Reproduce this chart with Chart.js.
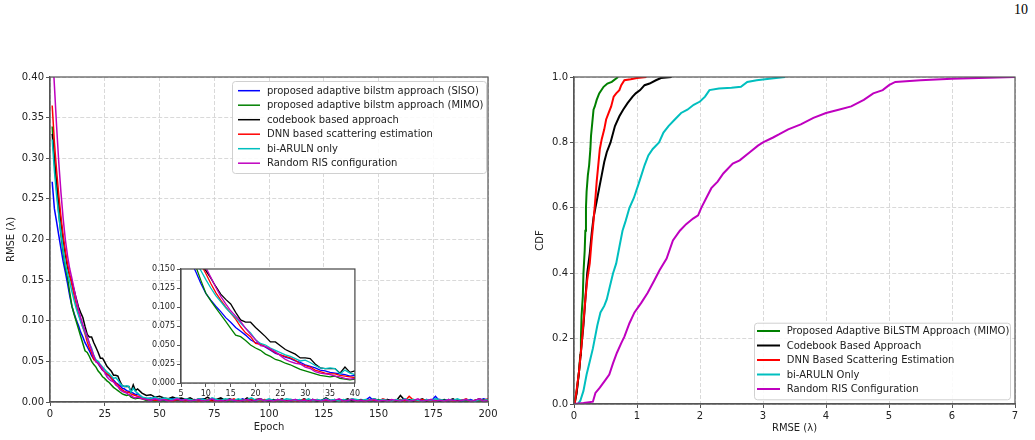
<!DOCTYPE html>
<html>
<head>
<meta charset="utf-8">
<script src="https://cdn.jsdelivr.net/npm/chart.js@4/dist/chart.umd.min.js"></script>
<style>
	body { margin: 0; width: 1035px; height: 440px; background: #fff; position: relative; overflow: hidden; }
	canvas { position: absolute; }
	#pageNumber { position: absolute; left: 1014px; top: 2px; font: 14px/16px "Liberation Serif", serif; color: #000; }
</style>
</head>
<body>
<div id="pageNumber">10</div>
<canvas id="rmseChart" width="500" height="440" style="left:0;top:0"></canvas>
<canvas id="zoomChart" width="222" height="140" style="left:140px;top:260px"></canvas>
<canvas id="cdfChart" width="515" height="440" style="left:520px;top:0"></canvas>
<script>
// -------------------- Data -------------------- //

// epochs: every epoch up to 40, then every second epoch
const epochs = [];
for (let e = 1; e <= 40; e++) epochs.push(e);
for (let e = 42; e <= 200; e += 2) epochs.push(e);

const rmseLabels = [
	"proposed adaptive bilstm approach (SISO)",
	"proposed adaptive bilstm approach (MIMO)",
	"codebook based approach",
	"DNN based scattering estimation",
	"bi-ARULN only",
	"Random RIS configuration"
];
const rmseColors = ["#0000ff", "#008000", "#000000", "#ff0000", "#00bfbf", "#bf00bf"];

const rmseSiso = [
	.271,.238,.222,.205,.189,.173,.160,.146,.131,.118,.109,.101,.094,.086,.080,.073,.068,.063,.057,.053,
	.051,.047,.043,.039,.037,.034,.032,.029,.027,.024,.022,.020,.017,.016,.014,.013,.012,.011,.009,.010,
	.006,.004,.005,.003,.004,.002,.003,.005,.002,.003,.002,.001,.003,.002,.004,.001,.002,.003,.001,.002,
	.003,.001,.002,.004,.001,.002,.001,.003,.002,.001,.002,.003,.001,.002,.001,.003,.002,.001,.002,.003,
	.001,.002,.001,.002,.003,.001,.002,.001,.003,.002,.001,.002,.006,.001,.002,.001,.003,.002,.001,.002,
	.004,.001,.002,.001,.002,.003,.001,.007,.001,.002,.001,.003,.002,.001,.002,.003,.001,.002,.004,.002
];
const rmseMimo = [
	.339,.295,.262,.232,.205,.184,.166,.153,.135,.118,.108,.099,.090,.081,.072,.063,.061,.056,.050,.046,
	.043,.038,.035,.031,.029,.026,.024,.021,.018,.016,.014,.012,.010,.009,.008,.009,.006,.005,.004,.005,
	.004,.002,.003,.001,.002,.001,.002,.001,.003,.001,.002,.000,.001,.002,.001,.000,.002,.001,.003,.001,
	.000,.002,.001,.003,.001,.000,.002,.001,.000,.002,.001,.003,.000,.001,.002,.001,.000,.002,.001,.003,
	.001,.000,.002,.001,.000,.002,.001,.003,.000,.001,.002,.001,.000,.002,.003,.001,.000,.002,.001,.000,
	.002,.001,.003,.000,.001,.002,.001,.000,.002,.001,.003,.001,.000,.002,.001,.000,.002,.001,.003,.001
];
const rmseCodebook = [
	.330,.300,.270,.245,.222,.200,.182,.166,.155,.148,.138,.127,.117,.110,.104,.093,.083,.080,.080,.073,
	.067,.061,.054,.054,.049,.044,.041,.038,.033,.033,.032,.025,.020,.019,.019,.019,.013,.021,.014,.016,
	.011,.008,.009,.006,.007,.005,.004,.006,.004,.005,.003,.005,.002,.004,.003,.006,.002,.003,.005,.002,
	.004,.002,.003,.001,.005,.002,.003,.004,.002,.001,.003,.002,.004,.001,.003,.002,.001,.004,.002,.003,
	.001,.002,.005,.002,.001,.003,.002,.004,.001,.002,.003,.001,.002,.004,.002,.001,.003,.002,.001,.008,
	.002,.003,.001,.002,.004,.001,.003,.002,.001,.003,.002,.004,.001,.002,.003,.001,.002,.004,.002,.003
];
const rmseDnn = [
	.365,.320,.285,.255,.228,.205,.186,.170,.156,.144,.131,.119,.109,.100,.092,.084,.074,.066,.061,.052,
	.051,.048,.044,.040,.037,.035,.033,.030,.025,.023,.021,.017,.015,.013,.012,.012,.010,.009,.008,.007,
	.005,.003,.004,.002,.003,.004,.002,.001,.003,.002,.001,.003,.002,.001,.002,.003,.001,.002,.001,.003,
	.002,.004,.001,.002,.001,.003,.002,.001,.003,.002,.001,.002,.003,.001,.002,.001,.002,.003,.001,.002,
	.003,.001,.002,.001,.003,.002,.001,.002,.004,.001,.002,.001,.003,.002,.001,.004,.002,.001,.002,.003,
	.001,.007,.002,.001,.003,.002,.001,.002,.003,.001,.002,.001,.003,.002,.004,.001,.002,.003,.002,.004
];
const rmseBiAruln = [
	.323,.285,.255,.230,.208,.188,.170,.158,.148,.136,.125,.115,.107,.099,.092,.086,.079,.072,.066,.057,
	.052,.050,.046,.043,.040,.037,.035,.032,.029,.030,.027,.023,.020,.019,.020,.019,.012,.017,.013,.011,
	.006,.005,.004,.006,.003,.005,.004,.003,.005,.002,.004,.003,.002,.004,.003,.002,.005,.003,.002,.004,
	.003,.002,.004,.002,.003,.005,.002,.003,.002,.004,.002,.003,.002,.004,.003,.002,.003,.001,.004,.002,
	.003,.002,.004,.002,.003,.001,.003,.002,.004,.003,.002,.003,.002,.004,.002,.003,.002,.001,.003,.002,
	.004,.002,.003,.002,.001,.003,.002,.004,.003,.002,.003,.002,.004,.002,.003,.002,.001,.003,.002,.003
];
const rmseRandomRis = [
	.440,.390,.340,.295,.258,.226,.200,.180,.164,.152,.139,.126,.114,.104,.095,.088,.081,.072,.064,.057,
	.049,.048,.045,.041,.036,.031,.028,.026,.025,.021,.019,.015,.013,.012,.011,.009,.008,.006,.005,.006,
	.004,.003,.002,.004,.002,.003,.001,.002,.004,.002,.003,.001,.002,.003,.001,.002,.004,.001,.002,.001,
	.003,.002,.001,.002,.003,.001,.002,.004,.001,.002,.001,.003,.002,.001,.002,.003,.001,.002,.001,.003,
	.002,.001,.003,.001,.002,.004,.001,.002,.003,.001,.002,.001,.002,.003,.001,.002,.001,.003,.002,.001,
	.003,.001,.002,.004,.001,.002,.003,.001,.002,.001,.003,.002,.001,.002,.003,.001,.002,.004,.001,.002
];
const rmseSeries = [rmseSiso, rmseMimo, rmseCodebook, rmseDnn, rmseBiAruln, rmseRandomRis];

const cdfLabels = [
	"Proposed Adaptive BiLSTM Approach (MIMO)",
	"Codebook Based Approach",
	"DNN Based Scattering Estimation",
	"bi-ARULN Only",
	"Random RIS Configuration"
];
const cdfColors = ["#008000", "#000000", "#ff0000", "#00bfbf", "#bf00bf"];

const cdfMimoX = [0, .02, .05, .08, .10, .11, .12, .14, .15, .17, .18, .19, .20, .22, .24, .26, .27, .29, .31, .33, .36, .40, .47, .53, .60, .70];
const cdfMimoY = [0, .01, .05, .10, .15, .20, .27, .33, .40, .47, .53, .60, .65, .70, .73, .78, .82, .86, .90, .91, .93, .95, .97, .98, .985, 1];
const cdfCodebookX = [0, .04, .08, .12, .15, .18, .21, .25, .28, .31, .34, .36, .40, .44, .48, .52, .58, .65, .72, .78, .85, .93, .98, 1.05, 1.12, 1.20, 1.30, 1.38, 1.55];
const cdfCodebookY = [0, .03, .10, .18, .24, .32, .40, .46, .52, .57, .60, .62, .66, .70, .74, .77, .80, .85, .88, .90, .92, .94, .95, .96, .975, .98, .99, .997, 1];
const cdfDnnX = [.01, .04, .08, .12, .15, .18, .21, .25, .28, .31, .34, .36, .38, .41, .44, .48, .51, .55, .59, .63, .67, .72, .75, .80, .90, 1.0, 1.15];
const cdfDnnY = [0, .04, .10, .18, .25, .32, .38, .43, .50, .56, .63, .68, .72, .78, .81, .84, .87, .89, .91, .94, .95, .96, .975, .99, .993, .997, 1];
const cdfBiArulnX = [.06, .10, .15, .20, .25, .30, .37, .42, .48, .52, .57, .62, .67, .72, .77, .82, .88, .95, 1.02, 1.07, 1.12, 1.18, 1.25, 1.35, 1.42, 1.50, 1.60, 1.70, 1.80, 1.90, 2.00, 2.08, 2.15, 2.30, 2.50, 2.65, 2.75, 2.90, 3.10, 3.35];
const cdfBiArulnY = [0, .01, .04, .09, .13, .17, .24, .28, .30, .32, .36, .40, .43, .48, .53, .56, .60, .63, .67, .70, .73, .76, .78, .80, .83, .85, .87, .89, .90, .915, .925, .94, .96, .965, .967, .97, .985, .99, .995, 1];
const cdfRandomRisX = [0, .15, .30, .34, .41, .50, .56, .62, .68, .75, .80, .88, .96, 1.07, 1.17, 1.28, 1.36, 1.47, 1.57, 1.68, 1.78, 1.89, 1.97, 2.02, 2.10, 2.18, 2.28, 2.37, 2.52, 2.63, 2.79, 2.92, 3.0, 3.16, 3.26, 3.4, 3.6, 3.8, 4.0, 4.2, 4.4, 4.6, 4.75, 4.9, 5.0, 5.1, 5.5, 6.0, 7.0];
const cdfRandomRisY = [0, .003, .007, .034, .05, .074, .09, .125, .156, .186, .206, .247, .28, .31, .34, .38, .41, .445, .50, .53, .55, .567, .577, .60, .63, .66, .68, .705, .735, .745, .77, .79, .80, .815, .825, .84, .855, .875, .89, .90, .91, .93, .95, .96, .975, .985, .99, .995, 1];
const cdfSeries = [
	[cdfMimoX, cdfMimoY], [cdfCodebookX, cdfCodebookY], [cdfDnnX, cdfDnnY],
	[cdfBiArulnX, cdfBiArulnY], [cdfRandomRisX, cdfRandomRisY]
];

// -------------------- Helpers -------------------- //

const tickColor = "#222";
const gridColor = "#cfcfcf";
const frameColor = "#555";
const baseFont = { family: "DejaVu Sans", size: 10 };

/// Turns two x/y arrays into {x, y} points
function toPoints(xs, ys) { return xs.map((x, i) => ({ x: x, y: ys[i] })); }

/// matplotlib style box around the plot area
const framePlugin = {
	id: "frame",
	beforeDatasetsDraw(chart, args, opts) {
		if (!opts.fill) return;
		const a = chart.chartArea;
		chart.ctx.save();
		chart.ctx.fillStyle = opts.fill;
		chart.ctx.fillRect(a.left, a.top, a.right - a.left, a.bottom - a.top);
		chart.ctx.restore();
	},
	afterDatasetsDraw(chart, args, opts) {
		const a = chart.chartArea, ctx = chart.ctx;
		ctx.save();
		ctx.strokeStyle = opts.color || frameColor;
		ctx.lineWidth = opts.width || 1.2;
		ctx.strokeRect(a.left, a.top, a.right - a.left, a.bottom - a.top);
		ctx.restore();
	}
};

/// Legend box drawn inside the plot, like matplotlib does it
const boxLegendPlugin = {
	id: "boxLegend",
	afterDraw(chart, args, opts) {
		if (!opts.x) return;
		const ctx = chart.ctx;
		ctx.save();
		ctx.fillStyle = "rgba(255,255,255,0.85)";
		ctx.strokeStyle = "#d0d0d0";
		ctx.lineWidth = 1;
		ctx.beginPath();
		ctx.roundRect(opts.x + 0.5, opts.y + 0.5, opts.w, opts.h, 3);
		ctx.fill();
		ctx.stroke();
		ctx.font = "10px 'DejaVu Sans'";
		ctx.textBaseline = "middle";
		chart.data.datasets.forEach((ds, i) => {
			const y = opts.rowY + i * opts.rowH;
			ctx.strokeStyle = ds.borderColor;
			ctx.lineWidth = opts.lineWidth;
			ctx.beginPath();
			ctx.moveTo(opts.lineX1, y);
			ctx.lineTo(opts.lineX2, y);
			ctx.stroke();
			ctx.fillStyle = tickColor;
			ctx.fillText(ds.label, opts.textX, y + 0.5);
		});
		ctx.restore();
	}
};

/// Shared axis settings
function axis(min, max, step, digits, fontSize, title, titlePadding, size) {
	return {
		type: "linear", min: min, max: max,
		ticks: {
			stepSize: step, color: tickColor, font: { family: "DejaVu Sans", size: fontSize },
			padding: 2, maxRotation: 0, autoSkip: false,
			callback: v => v.toFixed(digits)
		},
		grid: { color: gridColor, lineWidth: 0.8, tickLength: 4, tickColor: frameColor, tickWidth: 1, tickBorderDash: [] },
		border: { color: frameColor, width: 1.2, dash: [4, 2] },
		title: { display: !!title, text: title, color: tickColor, font: baseFont, padding: titlePadding },
		afterFit: s => { if (s.isHorizontal()) s.height = size; else s.width = size; }
	};
}

// -------------------- RMSE vs Epoch -------------------- //

function rmseChartInit() {
	const datasets = rmseSeries.map((values, i) => ({
		label: rmseLabels[i],
		data: toPoints(epochs, values),
		borderColor: rmseColors[i],
		borderWidth: 1.5,
		pointRadius: 0,
		tension: 0,
		order: rmseSeries.length - i
	}));

	new Chart(document.getElementById("rmseChart"), {
		type: "line",
		data: { datasets: datasets },
		plugins: [framePlugin, boxLegendPlugin],
		options: {
			responsive: false, animation: false, devicePixelRatio: 1,
			layout: { padding: { top: 77, right: 12, left: 0, bottom: 0 } },
			scales: {
				x: axis(0, 200, 25, 0, 10, "Epoch", { top: 0, bottom: 7 }, 38),
				y: axis(0, 0.4, 0.05, 2, 10, "RMSE (\u03bb)", { top: 5, bottom: 0 }, 50)
			},
			plugins: {
				legend: { display: false }, tooltip: { enabled: false },
				frame: {},
				boxLegend: { x: 232, y: 81, w: 254, h: 92, lineX1: 238, lineX2: 260, textX: 267, rowY: 90.7, rowH: 14.5, lineWidth: 1.5 }
			}
		}
	});

	// zoomed inset of the first 40 epochs
	const insetSets = rmseSeries.map((values, i) => ({
		label: rmseLabels[i],
		data: toPoints(epochs, values),
		borderColor: rmseColors[i],
		borderWidth: 1.3,
		pointRadius: 0,
		order: rmseSeries.length - i
	}));
	new Chart(document.getElementById("zoomChart"), {
		type: "line",
		data: { datasets: insetSets },
		plugins: [framePlugin],
		options: {
			responsive: false, animation: false, devicePixelRatio: 1,
			layout: { padding: { top: 9, right: 5, left: 0, bottom: 0 } },
			scales: {
				x: axis(5, 40, 5, 0, 8, "", 0, 17),
				y: axis(0, 0.15, 0.025, 3, 8, "", 0, 41)
			},
			plugins: {
				legend: { display: false }, tooltip: { enabled: false },
				frame: { fill: "#fff", color: "#444" }
			}
		}
	});
}

// -------------------- CDF -------------------- //

function cdfChartInit() {
	const datasets = cdfSeries.map(([xs, ys], i) => ({
		label: cdfLabels[i],
		data: toPoints(xs, ys),
		borderColor: cdfColors[i],
		borderWidth: 2,
		pointRadius: 0,
		order: cdfSeries.length - i
	}));

	new Chart(document.getElementById("cdfChart"), {
		type: "line",
		data: { datasets: datasets },
		plugins: [framePlugin, boxLegendPlugin],
		options: {
			responsive: false, animation: false, devicePixelRatio: 1,
			layout: { padding: { top: 77, right: 20, left: 0, bottom: 0 } },
			scales: {
				x: axis(0, 7, 1, 0, 10, "RMSE (\u03bb)", { top: 0, bottom: 6 }, 36),
				y: axis(0, 1, 0.2, 1, 10, "CDF", { top: 14, bottom: 0 }, 54)
			},
			plugins: {
				legend: { display: false }, tooltip: { enabled: false },
				frame: {},
				boxLegend: { x: 234, y: 322.7, w: 256, h: 76.6, lineX1: 237, lineX2: 260, textX: 266.7, rowY: 331, rowH: 14.5, lineWidth: 2 }
			}
		}
	});
}

rmseChartInit();
cdfChartInit();
</script>
</body>
</html>
